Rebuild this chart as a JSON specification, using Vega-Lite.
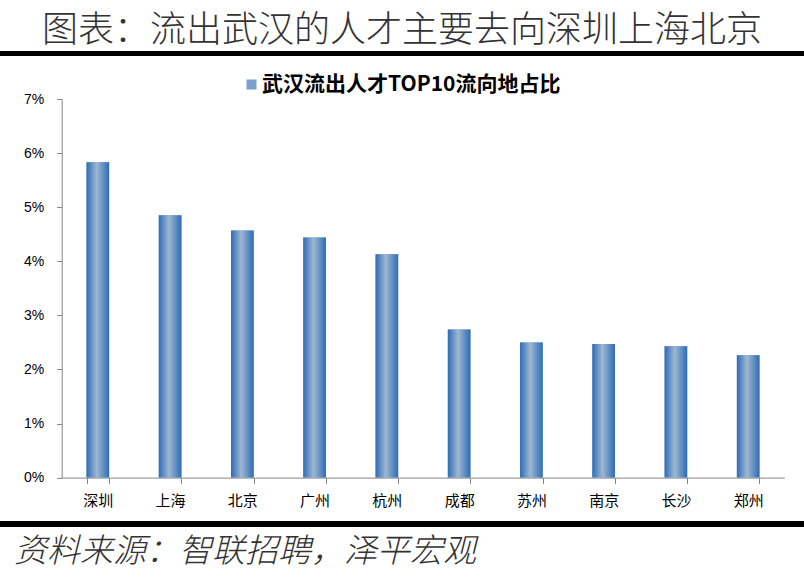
{
  "$schema": "https://vega.github.io/schema/vega-lite/v6.json",
  "background": "white",
  "padding": {"top": 12, "left": 0, "right": 0, "bottom": 12},
  "title": {
    "text": "图表：流出武汉的人才主要去向深圳上海北京",
    "font": "Noto Sans CJK SC",
    "fontSize": 36,
    "fontWeight": 300,
    "color": "#333333",
    "anchor": "middle",
    "offset": 1
  },
  "config": {"view": {"stroke": null}},
  "bounds": "flush",
  "spacing": 43,
  "vconcat": [
    {
      "width": 804,
      "height": 5,
      "view": {"fill": "black", "stroke": null},
      "data": {"values": [{}]},
      "mark": {"type": "point", "opacity": 0},
      "encoding": {}
    },
    {
      "width": 804,
      "height": 378.6,
      "data": {
        "values": [
          {"city": "深圳", "share": 5.83},
          {"city": "上海", "share": 4.85},
          {"city": "北京", "share": 4.57},
          {"city": "广州", "share": 4.44},
          {"city": "杭州", "share": 4.13},
          {"city": "成都", "share": 2.74},
          {"city": "苏州", "share": 2.5},
          {"city": "南京", "share": 2.47},
          {"city": "长沙", "share": 2.43},
          {"city": "郑州", "share": 2.26}
        ]
      },
      "encoding": {
        "x": {
          "field": "city",
          "type": "nominal",
          "sort": null,
          "scale": {"range": [61.7, 784.3], "paddingInner": 0.687, "paddingOuter": 0.3435},
          "axis": {
            "title": null,
            "labelAngle": 0,
            "labelFont": "Noto Sans CJK SC",
            "labelFontSize": 15,
            "labelColor": "#000000",
            "labelPadding": 10,
            "tickBand": "extent",
            "tickSize": 6,
            "tickColor": "#868686",
            "domainColor": "#868686",
            "grid": false
          }
        },
        "y": {
          "field": "share",
          "type": "quantitative",
          "scale": {"domain": [0, 7], "nice": false},
          "axis": {
            "title": null,
            "offset": -61.7,
            "values": [0, 1, 2, 3, 4, 5, 6, 7],
            "labelExpr": "datum.value + '%'",
            "labelFont": "Liberation Sans",
            "labelFontSize": 14,
            "labelColor": "#000000",
            "labelPadding": 13,
            "tickSize": 5,
            "tickColor": "#868686",
            "domainColor": "#868686",
            "grid": false
          }
        }
      },
      "layer": [
        {
          "mark": {"type": "bar"},
          "encoding": {
            "color": {
              "datum": "武汉流出人才TOP10流向地占比",
              "scale": {"range": ["#7a9fcb"]},
              "legend": {
                "orient": "none",
                "legendX": 241,
                "legendY": 23,
                "padding": 0,
                "title": null,
                "symbolType": "square",
                "symbolSize": 100,
                "symbolStrokeWidth": 0,
                "labelFont": "Noto Sans CJK SC",
                "labelFontSize": 21,
                "labelFontWeight": "bold",
                "labelColor": "#000000",
                "labelOffset": 0,
                "labelLimit": 500
              }
            }
          }
        },
        {
          "mark": {
            "type": "bar",
            "fill": {
              "gradient": "linear",
              "x1": 0, "y1": 0, "x2": 1, "y2": 0,
              "stops": [
                {"offset": 0, "color": "#2e6cb6"},
                {"offset": 0.45, "color": "#9fb7d1"},
                {"offset": 1, "color": "#2e6cb6"}
              ]
            }
          }
        }
      ]
    },
    {
      "width": 804,
      "height": 6,
      "view": {"fill": "black", "stroke": null},
      "title": {
        "text": "资料来源：智联招聘，泽平宏观",
        "orient": "bottom",
        "anchor": "start",
        "font": "Noto Sans CJK SC",
        "fontSize": 33,
        "fontStyle": "italic",
        "fontWeight": 300,
        "color": "#333333",
        "offset": 9,
        "dx": 14
      },
      "data": {"values": [{}]},
      "mark": {"type": "point", "opacity": 0},
      "encoding": {}
    }
  ]
}
